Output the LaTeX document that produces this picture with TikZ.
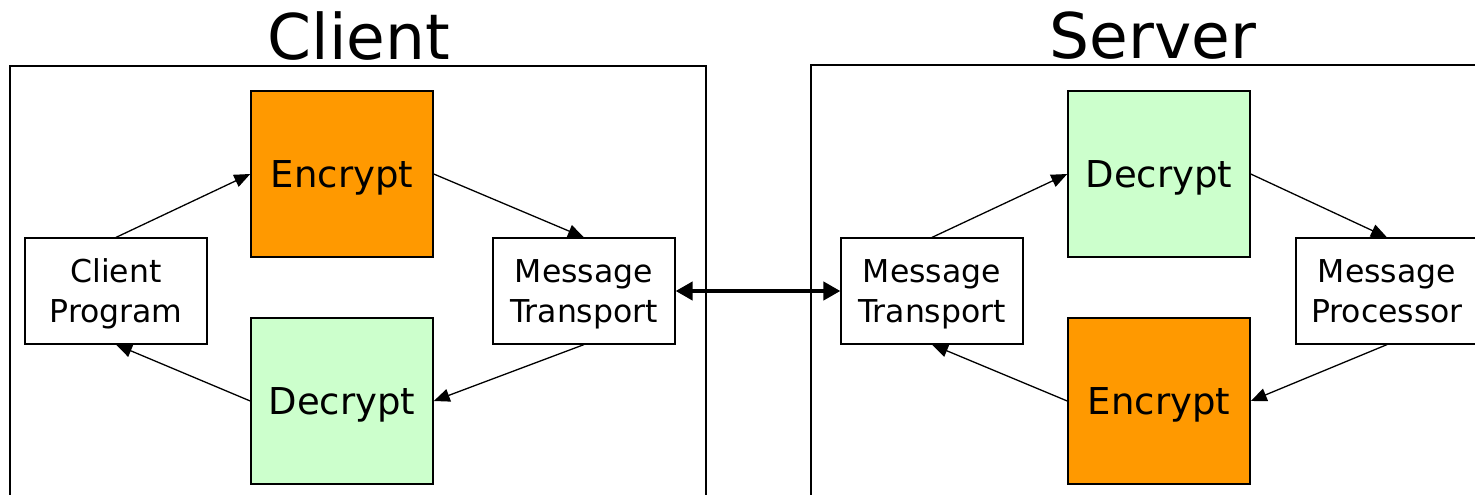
\documentclass[tikz,border=0pt]{standalone}
\usepackage{fontspec}
\setmainfont{DejaVu Sans}
\usepackage{xcolor}
\usetikzlibrary{arrows.meta}

\definecolor{encorange}{HTML}{FF9900}
\definecolor{decgreen}{HTML}{CCFFCC}

\tikzset{
	frame/.style={line width=2pt},
	title/.style={font=\fontsize{63}{70}\selectfont},
	cryptbox/.style={draw, line width=1.5pt, minimum width=182pt, minimum height=166pt, inner sep=0pt, text depth=0pt, font=\fontsize{37}{44}\selectfont},
	partbox/.style={draw, line width=1.2pt, minimum width=182pt, minimum height=106pt, inner sep=0pt, align=center, text depth=0pt, font=\fontsize{31.5}{40}\selectfont},
	flow/.style={line width=1.3pt, -{Triangle[length=16pt,width=13pt]}},
	link/.style={line width=4pt, {Triangle[length=17pt,width=18pt]}-{Triangle[length=17pt,width=18pt]}}
}

\begin{document}
\begin{tikzpicture}[x=1pt,y=-1pt]
	\useasboundingbox[fill=white] (0,0) rectangle (1475,495);

	% client side
	\node[title] (clienttitle) at (359,36) {Client};
	\draw[frame] (10,500) -- (10,66) -- (706,66) -- (706,500);
	\node[cryptbox, fill=encorange] (cenc) at (342,174) {Encrypt};
	\node[cryptbox, fill=decgreen] (cdec) at (342,401) {Decrypt};
	\node[partbox] (cprog) at (116,291) {Client\\Program};
	\node[partbox] (ctrans) at (584,291) {Message\\Transport};

	\draw[flow] (cprog.north) -- (cenc.west);
	\draw[flow] (cenc.east) -- (ctrans.north);
	\draw[flow] (ctrans.south) -- (cdec.east);
	\draw[flow] (cdec.west) -- (cprog.south);

	% server side
	\node[title] (servertitle) at (1153,36) {Server};
	\draw[frame] (811,500) -- (811,65) -- (1480,65);
	\node[cryptbox, fill=decgreen] (sdec) at (1159,174) {Decrypt};
	\node[cryptbox, fill=encorange] (senc) at (1159,401) {Encrypt};
	\node[partbox] (strans) at (932,291) {Message\\Transport};
	\node[partbox] (sproc) at (1387,291) {Message\\Processor};

	\draw[flow] (strans.north) -- (sdec.west);
	\draw[flow] (sdec.east) -- (sproc.north);
	\draw[flow] (sproc.south) -- (senc.east);
	\draw[flow] (senc.west) -- (strans.south);

	% transport link
	\draw[link] (ctrans.east) -- (strans.west);
\end{tikzpicture}
\end{document}
